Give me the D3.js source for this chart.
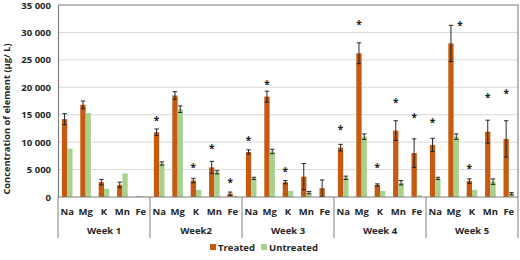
<!DOCTYPE html>
<html>
<head>
<meta charset="utf-8">
<script src="https://cdn.jsdelivr.net/npm/d3@7"></script>
<style>
  body { margin: 0; background: #fff; }
  svg { font-family: "Open Sans", "Liberation Sans", sans-serif; font-weight: bold; }
</style>
</head>
<body>
<svg width="520" height="260"></svg>
<script>
// weeks and elements (two-level category axis)
const weeks = ["Week 1", "Week2", "Week 3", "Week 4", "Week 5"];
const elements = ["Na", "Mg", "K", "Mn", "Fe"];

// values per week, in element order
const treated = [
   [14200, 16800, 2700, 2200, 100],
   [11800, 18500, 3000, 5400, 600],
   [8200, 18300, 2700, 3700, 1600],
   [9000, 26200, 2200, 12100, 8000],
   [9500, 28000, 2900, 11900, 10600]
];
const treatedErr = [
   [1000, 700, 500, 500, 0],
   [600, 700, 400, 1100, 300],
   [400, 1000, 300, 2400, 1500],
   [600, 1900, 200, 1800, 2600],
   [1200, 3300, 400, 2100, 3300]
];
const untreated = [
   [8800, 15300, 1500, 4300, 100],
   [6100, 16000, 1300, 4500, 200],
   [3400, 8300, 1100, 800, 100],
   [3500, 11000, 1100, 2600, 300],
   [3400, 11000, 1300, 2800, 600]
];
const untreatedErr = [
   [0, 0, 0, 0, 0],
   [300, 600, 0, 300, 0],
   [200, 400, 0, 200, 0],
   [300, 500, 0, 400, 0],
   [200, 500, 0, 500, 200]
];
// level of the significance mark (null = none)
const stars = [
   [null, null, null, null, null],
   [14100, null, 5500, 9000, 2900],
   [10500, 20600, 4900, null, null],
   [12500, 31700, 5500, 17500, 14700],
   [13700, 31400, 5400, 18400, 19100]
];
const yTicks = [0, 5000, 10000, 15000, 20000, 25000, 30000, 35000];

const svg = d3.select("svg");
const area = { left: 58, right: 518, top: 5, bottom: 197 };
const orange = "#C55A11", green = "#A9D18E";

const scY = d3.scaleLinear().domain([0, 35000]).range([area.bottom, area.top]);
const scWeek = d3.scaleBand().domain(weeks).range([area.left, area.right]);
const scEl = d3.scaleBand().domain(elements).range([0, scWeek.bandwidth()]);
const barW = 5.3;

// gridlines
svg.append("g")
   .selectAll("line")
   .data(yTicks.slice(1))
   .enter()
   .append("line")
   .attr("x1", area.left).attr("x2", area.right)
   .attr("y1", d => scY(d)).attr("y2", d => scY(d))
   .attr("stroke", "#d9d9d9").attr("stroke-width", 1);

// plot frame (top and right)
svg.append("path")
   .attr("d", `M${area.left},${area.top}H${area.right}V${area.bottom}`)
   .attr("fill", "none").attr("stroke", "#8c8c8c").attr("stroke-width", 1.2);

// y axis
const axisY = d3.axisLeft(scY).tickValues(yTicks).tickSize(0).tickPadding(7)
   .tickFormat(d => d3.format(",")(d).replace(/,/g, " "));
const gy = svg.append("g").attr("transform", `translate(${area.left},0)`).call(axisY);
gy.select(".domain").attr("stroke", "#7f7f7f").attr("stroke-width", 1.2);
gy.selectAll("text").attr("font-size", 9.5).attr("fill", "#262626")
   .attr("font-family", "'Open Sans', sans-serif");

svg.append("text")
   .attr("transform", `translate(10, 119) rotate(-90)`)
   .attr("text-anchor", "middle")
   .attr("font-size", 9.3).attr("fill", "#262626")
   .text("Concentration of element (µg/ L)");

// flatten data
const rows = [];
weeks.forEach((w, i) => elements.forEach((e, j) => {
   rows.push({ week: w, el: e, t: treated[i][j], te: treatedErr[i][j],
      u: untreated[i][j], ue: untreatedErr[i][j], star: stars[i][j] });
}));
const cx = d => scWeek(d.week) + scEl(d.el) + scEl.bandwidth() / 2;

// bars
const plot = svg.append("g");
plot.selectAll(".bt").data(rows).enter().append("rect")
   .attr("x", d => cx(d) - barW).attr("width", barW)
   .attr("y", d => scY(d.t)).attr("height", d => scY(0) - scY(d.t))
   .attr("fill", orange);
plot.selectAll(".bu").data(rows).enter().append("rect")
   .attr("x", d => cx(d)).attr("width", barW)
   .attr("y", d => scY(d.u)).attr("height", d => scY(0) - scY(d.u))
   .attr("fill", green);

// error bars
function errBars(data, xOff, val, err) {
   const g = plot.append("g").attr("stroke", "#262626").attr("stroke-width", 1);
   const sel = g.selectAll("g").data(data.filter(d => err(d) > 0)).enter().append("g");
   sel.append("line")
      .attr("x1", d => cx(d) + xOff).attr("x2", d => cx(d) + xOff)
      .attr("y1", d => scY(val(d) + err(d))).attr("y2", d => scY(Math.max(0, val(d) - err(d))));
   [1, -1].forEach(s => sel.append("line")
      .attr("x1", d => cx(d) + xOff - 2.2).attr("x2", d => cx(d) + xOff + 2.2)
      .attr("y1", d => scY(Math.max(0, val(d) + s * err(d))))
      .attr("y2", d => scY(Math.max(0, val(d) + s * err(d)))));
}
errBars(rows, -barW / 2, d => d.t, d => d.te);
errBars(rows, barW / 2, d => d.u, d => d.ue);

// significance marks
plot.selectAll(".star").data(rows.filter(d => d.star !== null)).enter().append("text")
   .attr("x", d => cx(d) - barW / 2 + (d.star > 31000 && d.week === "Week 5" ? 9 : 0))
   .attr("y", d => scY(d.star) + 4.5)
   .attr("text-anchor", "middle")
   .attr("font-size", 10).attr("fill", "#1a1a1a")
   .text("*");

// category axis (two levels)
const cat = svg.append("g").attr("fill", "#262626");
cat.selectAll(".el").data(rows).enter().append("text")
   .attr("x", d => cx(d)).attr("y", 215)
   .attr("text-anchor", "middle").attr("font-size", 9.5)
   .text(d => d.el);
cat.selectAll(".wk").data(weeks).enter().append("text")
   .attr("x", d => scWeek(d) + scWeek.bandwidth() / 2).attr("y", 234)
   .attr("text-anchor", "middle").attr("font-size", 9.5)
   .text(d => d);
cat.selectAll(".sep").data(weeks.concat([null])).enter().append("line")
   .attr("x1", (d, i) => area.left + i * scWeek.bandwidth())
   .attr("x2", (d, i) => area.left + i * scWeek.bandwidth())
   .attr("y1", area.bottom).attr("y2", 238)
   .attr("stroke", "#7f7f7f").attr("stroke-width", 1);
svg.append("line")
   .attr("x1", area.left).attr("x2", area.right)
   .attr("y1", area.bottom).attr("y2", area.bottom)
   .attr("stroke", "#7f7f7f").attr("stroke-width", 1.2);

// legend
const legend = svg.append("g").attr("transform", "translate(210, 251)");
[["Treated", orange, 0], ["Untreated", green, 51]].forEach(([name, col, x]) => {
   legend.append("rect").attr("x", x).attr("y", -7).attr("width", 6).attr("height", 6).attr("fill", col);
   legend.append("text").attr("x", x + 8).attr("y", 0)
      .attr("font-size", 9.5).attr("fill", "#262626").text(name);
});
</script>
</body>
</html>
